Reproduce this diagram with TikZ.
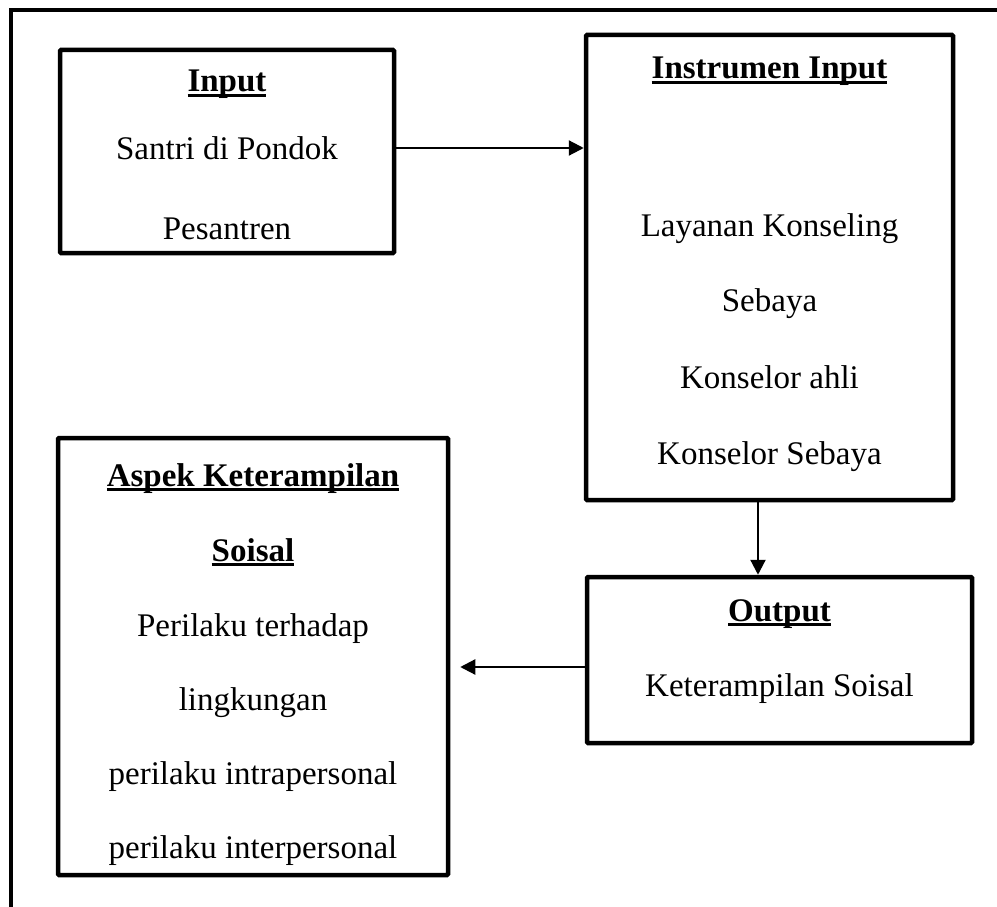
\documentclass[tikz,border=0pt]{standalone}
\usepackage{fontspec}
\setmainfont{Liberation Serif}
\usetikzlibrary{arrows.meta}
\newcommand{\hdg}[1]{\setbox0\hbox{\bfseries #1}\rlap{\rule[-5pt]{\wd0}{3pt}}\box0}
\tikzset{
  box/.style={draw,line width=4.5pt,rounded corners=1pt,inner sep=0pt},
  arr/.style={line width=2.2pt,-{Triangle[length=15pt,width=15pt]}},
  txt/.style={font=\fontsize{33}{40}\selectfont,inner sep=0pt,anchor=base}
}
\begin{document}
\begin{tikzpicture}[x=1pt,y=-1pt]
                \useasboundingbox (0,0) rectangle (997,907);
                \draw[line width=4.5pt] (11,907) -- (11,10) -- (997,10); % bingkai
                % kotak
                \node[box,minimum width=334pt,minimum height=203pt] (inp) at (227,151.5) {};
                \node[box,minimum width=367pt,minimum height=465pt] (ins) at (769.5,267.5) {};
                \node[box,minimum width=385pt,minimum height=166pt] (out) at (779.5,660) {};
                \node[box,minimum width=390pt,minimum height=437pt] (asp) at (253,656.5) {};
                % teks input
                \node[txt] (t1) at (227,92) {\hdg{Input}};
                \node[txt] at (227,160) {Santri di Pondok};
                \node[txt] at (227,239) {Pesantren};
                % teks instrumen
                \node[txt] (t2) at (769.5,79) {\hdg{Instrumen Input}};
                \node[txt] at (769.5,236) {Layanan Konseling};
                \node[txt] at (769.5,311) {Sebaya};
                \node[txt] at (769.5,388) {Konselor ahli};
                \node[txt] at (769.5,464) {Konselor Sebaya};
                % teks output
                \node[txt] (t3) at (779.5,621) {\hdg{Output}};
                \node[txt] at (779.5,696) {Keterampilan Soisal};
                % teks aspek
                \node[txt] (t4) at (253,486) {\hdg{Aspek Keterampilan}};
                \node[txt] at (253,561) {\hdg{Soisal}};
                \node[txt] at (253,636) {Perilaku terhadap};
                \node[txt] at (253,710) {lingkungan};
                \node[txt] at (253,784) {perilaku intrapersonal};
                \node[txt] at (253,858) {perilaku interpersonal};
                % panah
                \draw[arr] ([yshift=3.5pt]inp.east) -- ([yshift=3.5pt]inp.east -| ins.west);
                \draw[arr] ([xshift=-11.5pt]ins.south) -- ([xshift=-11.5pt]ins.south |- out.north);
                \draw[arr] ([yshift=-7pt]out.west) -- ([xshift=10pt,yshift=-7pt]asp.east |- out.west);
\end{tikzpicture}
\end{document}
